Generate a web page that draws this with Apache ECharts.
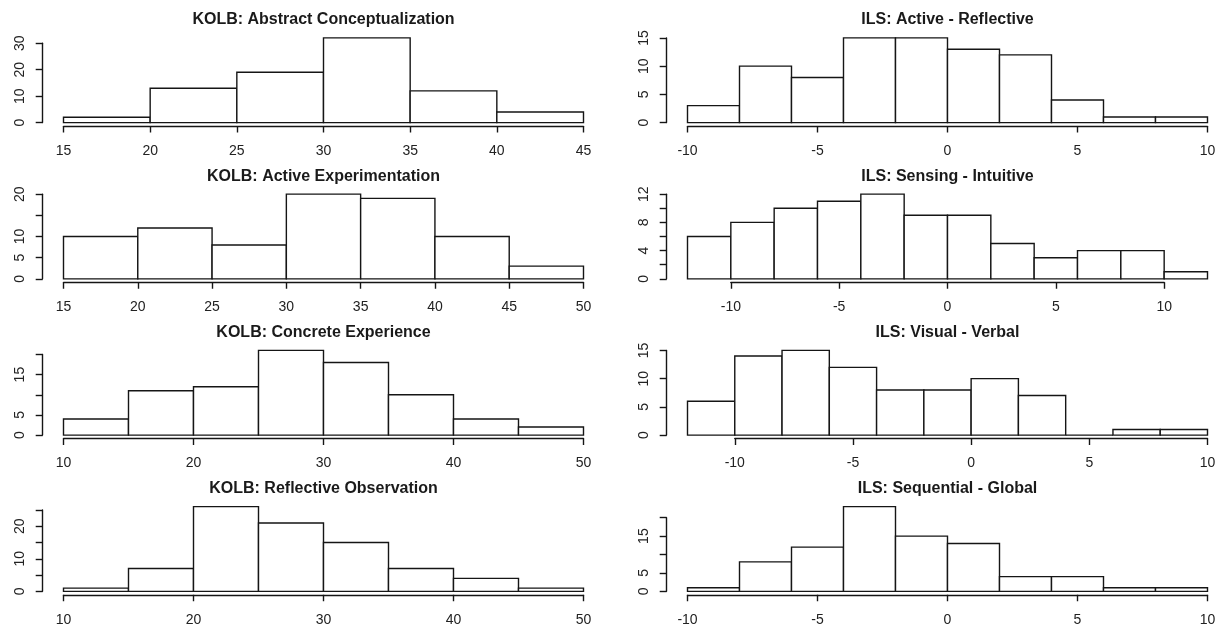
<!DOCTYPE html>
<html>
<head>
<meta charset="utf-8">
<script src="https://cdn.jsdelivr.net/npm/echarts@6/dist/echarts.min.js"></script>
<style>
html, body { margin: 0; padding: 0; background: #fff; }
#chart { width: 1217px; height: 627px; }
</style>
</head>
<body>
<div id="chart"></div>
<script>
// KOLB: Abstract Conceptualization
const acBreaks = [15, 20, 25, 30, 35, 40, 45]
const acCounts = [2, 13, 19, 32, 12, 4]
const acXTicks = [15, 20, 25, 30, 35, 40, 45]
const acYTicks = [0, 10, 20, 30]
const acYLabels = ['0', '10', '20', '30']

// KOLB: Active Experimentation
const aeBreaks = [15, 20, 25, 30, 35, 40, 45, 50]
const aeCounts = [10, 12, 8, 20, 19, 10, 3]
const aeXTicks = [15, 20, 25, 30, 35, 40, 45, 50]
const aeYTicks = [0, 5, 10, 15, 20]
const aeYLabels = ['0', '5', '10', '', '20']

// KOLB: Concrete Experience
const ceBreaks = [10, 15, 20, 25, 30, 35, 40, 45, 50]
const ceCounts = [4, 11, 12, 21, 18, 10, 4, 2]
const ceXTicks = [10, 20, 30, 40, 50]
const ceYTicks = [0, 5, 10, 15, 20]
const ceYLabels = ['0', '5', '', '15', '']

// KOLB: Reflective Observation
const roBreaks = [10, 15, 20, 25, 30, 35, 40, 45, 50]
const roCounts = [1, 7, 26, 21, 15, 7, 4, 1]
const roXTicks = [10, 20, 30, 40, 50]
const roYTicks = [0, 5, 10, 15, 20, 25]
const roYLabels = ['0', '', '10', '', '20', '']

// ILS: Active - Reflective
const arBreaks = [-10, -8, -6, -4, -2, 0, 2, 4, 6, 8, 10]
const arCounts = [3, 10, 8, 15, 15, 13, 12, 4, 1, 1]
const arXTicks = [-10, -5, 0, 5, 10]
const arYTicks = [0, 5, 10, 15]
const arYLabels = ['0', '5', '10', '15']

// ILS: Sensing - Intuitive
const siBreaks = [-12, -10, -8, -6, -4, -2, 0, 2, 4, 6, 8, 10, 12]
const siCounts = [6, 8, 10, 11, 12, 9, 9, 5, 3, 4, 4, 1]
const siXTicks = [-10, -5, 0, 5, 10]
const siYTicks = [0, 2, 4, 6, 8, 10, 12]
const siYLabels = ['0', '', '4', '', '8', '', '12']

// ILS: Visual - Verbal
const vvBreaks = [-12, -10, -8, -6, -4, -2, 0, 2, 4, 6, 8, 10]
const vvCounts = [6, 14, 15, 12, 8, 8, 10, 7, 0, 1, 1]
const vvXTicks = [-10, -5, 0, 5, 10]
const vvYTicks = [0, 5, 10, 15]
const vvYLabels = ['0', '5', '10', '15']

// ILS: Sequential - Global
const sgBreaks = [-10, -8, -6, -4, -2, 0, 2, 4, 6, 8, 10]
const sgCounts = [1, 8, 12, 23, 15, 13, 4, 4, 1, 1]
const sgXTicks = [-10, -5, 0, 5, 10]
const sgYTicks = [0, 5, 10, 15, 20]
const sgYLabels = ['0', '5', '', '15', '']

const panels = [
  { title: 'KOLB: Abstract Conceptualization', breaks: acBreaks, counts: acCounts, xTicks: acXTicks, yTicks: acYTicks, yLabels: acYLabels },
  { title: 'KOLB: Active Experimentation', breaks: aeBreaks, counts: aeCounts, xTicks: aeXTicks, yTicks: aeYTicks, yLabels: aeYLabels },
  { title: 'KOLB: Concrete Experience', breaks: ceBreaks, counts: ceCounts, xTicks: ceXTicks, yTicks: ceYTicks, yLabels: ceYLabels },
  { title: 'KOLB: Reflective Observation', breaks: roBreaks, counts: roCounts, xTicks: roXTicks, yTicks: roYTicks, yLabels: roYLabels },
  { title: 'ILS: Active - Reflective', breaks: arBreaks, counts: arCounts, xTicks: arXTicks, yTicks: arYTicks, yLabels: arYLabels },
  { title: 'ILS: Sensing - Intuitive', breaks: siBreaks, counts: siCounts, xTicks: siXTicks, yTicks: siYTicks, yLabels: siYLabels },
  { title: 'ILS: Visual - Verbal', breaks: vvBreaks, counts: vvCounts, xTicks: vvXTicks, yTicks: vvYTicks, yLabels: vvYLabels },
  { title: 'ILS: Sequential - Global', breaks: sgBreaks, counts: sgCounts, xTicks: sgXTicks, yTicks: sgYTicks, yLabels: sgYLabels }
]

// plot region layout (R style: data range padded by 4% on each side)
const PLOT_LEFT = [42.7, 666.7]
const PLOT_W = 561.6
const PLOT_TOP0 = 34.5
const ROW_H = 156.25
const PLOT_H = 91.5
const INK = '#151515'
const FONT = '"Liberation Sans", Arial, sans-serif'

const chart = echarts.init(document.getElementById('chart'))

const grids = []
const xAxes = []
const yAxes = []
const series = []
const graphics = []

panels.forEach((p, i) => {
  const col = i < 4 ? 0 : 1
  const row = i % 4
  const pl = PLOT_LEFT[col]
  const pt = PLOT_TOP0 + ROW_H * row

  // x mapping
  const b0 = p.breaks[0]
  const b1 = p.breaks[p.breaks.length - 1]
  const xlo = b0 - 0.04 * (b1 - b0)
  const xhi = b1 + 0.04 * (b1 - b0)
  const sx = PLOT_W / (xhi - xlo)
  const t0 = p.xTicks[0]
  const t1 = p.xTicks[p.xTicks.length - 1]
  const gl = pl + (t0 - xlo) * sx
  const gw = (t1 - t0) * sx

  // y mapping
  const m = Math.max(...p.counts)
  const sy = PLOT_H / (1.08 * m)
  const yTop = p.yTicks[p.yTicks.length - 1]
  const zeroPx = pt + PLOT_H - 0.04 * m * sy
  const gt = zeroPx - yTop * sy

  grids.push({ left: gl, top: gt, width: gw, height: zeroPx - gt, outerBoundsMode: 'none' })

  xAxes.push({
    gridIndex: i,
    type: 'value',
    min: t0,
    max: t1,
    interval: p.xTicks[1] - p.xTicks[0],
    position: 'bottom',
    offset: 0.04 * m * sy,
    axisLine: { show: true, onZero: false, lineStyle: { color: INK, width: 1.4 } },
    axisTick: { show: true, length: 6.5, lineStyle: { color: INK, width: 1.4 } },
    axisLabel: { show: true, margin: 18, fontSize: 14, color: '#222', fontFamily: FONT },
    splitLine: { show: false }
  })

  yAxes.push({
    gridIndex: i,
    type: 'value',
    min: 0,
    max: yTop,
    interval: p.yTicks[1] - p.yTicks[0],
    position: 'left',
    offset: gl - pl,
    axisLine: { show: true, onZero: false, lineStyle: { color: INK, width: 1.4 } },
    axisTick: { show: true, length: 7, lineStyle: { color: INK, width: 1.4 } },
    axisLabel: {
      show: true,
      rotate: 90,
      margin: 15.5,
      fontSize: 14,
      color: '#222',
      fontFamily: FONT,
      formatter: v => {
        const k = p.yTicks.indexOf(v)
        return k >= 0 ? p.yLabels[k] : ''
      }
    },
    splitLine: { show: false }
  })

  series.push({
    type: 'custom',
    xAxisIndex: i,
    yAxisIndex: i,
    clip: false,
    silent: true,
    encode: { x: [0, 1], y: 2 },
    data: p.counts.map((c, k) => [p.breaks[k], p.breaks[k + 1], c]),
    renderItem: (params, api) => {
      const a = api.coord([api.value(0), api.value(2)])
      const b = api.coord([api.value(1), 0])
      return {
        type: 'rect',
        shape: { x: a[0], y: a[1], width: b[0] - a[0], height: b[1] - a[1] },
        style: { fill: '#fff', stroke: INK, lineWidth: 1.4 }
      }
    }
  })

  graphics.push({
    type: 'text',
    x: pl + PLOT_W / 2,
    y: pt - 14.5,
    style: {
      text: p.title,
      align: 'center',
      verticalAlign: 'middle',
      font: 'bold 16px ' + FONT,
      fill: '#1a1a1a'
    }
  })
})

chart.setOption({
  animation: false,
  backgroundColor: '#fff',
  grid: grids,
  xAxis: xAxes,
  yAxis: yAxes,
  series: series,
  graphic: graphics
})
</script>
</body>
</html>
